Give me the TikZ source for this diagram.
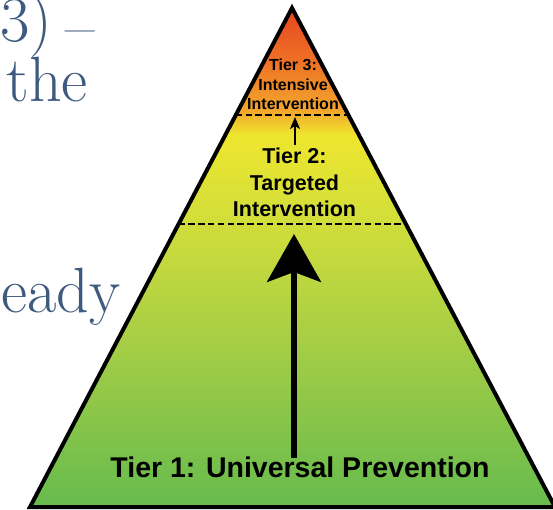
\documentclass[tikz,border=0pt]{standalone}
\usepackage{fontspec}
\usepackage{tikz}
\usetikzlibrary{arrows.meta}
\usetikzlibrary{calc}
\newfontfamily\tierfont{Liberation Sans}
\definecolor{slideblue}{RGB}{62,90,126}
\definecolor{tierred}{RGB}{232,70,31}
\definecolor{tierorange}{RGB}{238,112,38}
\definecolor{tieramber}{RGB}{243,165,44}
\definecolor{tieryellow}{RGB}{238,230,46}
\definecolor{tierlime}{RGB}{210,222,58}
\definecolor{tierleaf}{RGB}{170,207,68}
\definecolor{tiergreen}{RGB}{102,187,78}
\pgfdeclareverticalshading{tiershade}{100bp}{color(0bp)=(tiergreen); color(25bp)=(tiergreen);
  color(42.7bp)=(tierleaf); color(53.8bp)=(tierlime); color(62.3bp)=(tieryellow);
  color(64.8bp)=(tieramber); color(69.8bp)=(tierorange); color(75bp)=(tierred); color(100bp)=(tierred)}
\tikzstyle{tierlabel}=[align=center,inner sep=0]
\tikzstyle{tierline}=[dash pattern=on 6.5pt off 3.3pt,line width=1.6]
\tikzstyle{slideword}=[text=slideblue,inner sep=0,font=\fontsize{64}{70}\selectfont]
\tikzset{every picture/.style={
    line width=1
  }
}

\begin{document}
\begin{tikzpicture}[x=1pt,y=-1pt]
            \useasboundingbox (0,0) rectangle (553,510);
            % text of the slide behind the picture
            \node[slideword,anchor=base west] (dash) at (0,42) {3)\hspace{0.2em}\smash{\raisebox{-7pt}{--}}};
            \node[slideword,anchor=base west] (the) at (6,102) {the};
            \node[slideword,anchor=base east] (ready) at (121,312) {eady};
            % the pyramid
            \coordinate (apex) at (292,8);
            \coordinate (bl) at (30,507);
            \coordinate (br) at (555,507);
            \path[shading=tiershade,draw,line width=4] (apex) -- (bl) -- (br) -- cycle;
            \draw[tierline] ($(apex)!0.2144!(bl)$) -- ($(apex)!0.2144!(br)$);
            \draw[tierline] ($(apex)!0.4329!(bl)$) -- ($(apex)!0.4329!(br)$);
            % tiers
            \node[tierlabel,font=\tierfont\bfseries\fontsize{16}{19.5}\selectfont,anchor=base] (tierthree) at (293,110) {Tier 3:\\Intensive\\Intervention};
            \node[tierlabel,font=\tierfont\bfseries\fontsize{21.5}{26.5}\selectfont,anchor=base] (tiertwo) at (294.5,217) {Tier 2:\\Targeted\\Intervention};
            \node[tierlabel,font=\tierfont\bfseries\fontsize{28.5}{30}\selectfont,anchor=base] (tierone) at (300,477) {Tier 1: Universal Prevention};
            % arrows
            \coordinate (smalltip) at (295,117);
            \coordinate (bigtip) at (294,234);
            \coordinate (bigtail) at (294,458);
            \draw[line width=1.6,-{Stealth[length=12pt,width=10pt,inset=3pt]},shorten <=3pt] (tiertwo.north -| smalltip) -- (smalltip);
            \draw[line width=5.5,-{Stealth[length=48pt,width=54pt,inset=10pt]}] (bigtail) -- (bigtip);
          \end{tikzpicture}
\end{document}
